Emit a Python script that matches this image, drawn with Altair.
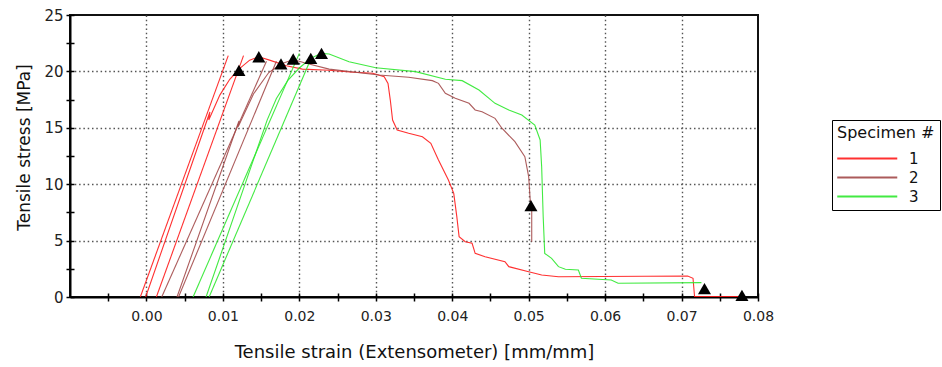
import altair as alt
import pandas as pd

# ---- Specimen 1 ----
s1_curve_strain = [-0.0001, 0.0083, 0.00815, 0.0096, 0.0109, 0.0121, 0.0135, 0.0147, 0.0161, 0.0183,
                   0.0204, 0.0239, 0.0266, 0.0296, 0.0311, 0.0316, 0.0319, 0.0322, 0.0328, 0.0343,
                   0.0361, 0.0372, 0.0382, 0.0395, 0.0402, 0.0406, 0.0409, 0.0417, 0.0426, 0.0430,
                   0.0443, 0.0469, 0.0474, 0.0500, 0.0517, 0.0539, 0.0708, 0.0715, 0.0717, 0.0779]
s1_curve_stress = [0.0, 16.4, 15.7, 17.9, 19.3, 20.2, 21.0, 21.3, 21.0, 20.5,
                   20.2, 20.1, 19.95, 19.83, 19.53, 18.94, 17.46, 15.69, 14.8, 14.51,
                   14.21, 13.63, 12.15, 10.37, 9.19, 7.12, 5.35, 4.9, 4.76, 3.87,
                   3.57, 3.13, 2.69, 2.24, 1.95, 1.8, 1.86, 1.66, 0.05, 0.05]
s1_fit_a_strain = [-0.0008, 0.0107]
s1_fit_a_stress = [0.0, 21.4]
s1_fit_b_strain = [0.0013, 0.0127]
s1_fit_b_stress = [0.0, 21.4]

# ---- Specimen 2 ----
s2_curve_strain = [0.0040, 0.0121, 0.0120, 0.0140, 0.0160, 0.0176, 0.0192, 0.0210, 0.0239, 0.0304,
                   0.0343, 0.0374, 0.0382, 0.0391, 0.0404, 0.0422, 0.0430, 0.0439, 0.0456, 0.0465,
                   0.0482, 0.0495, 0.0500, 0.0502, 0.0504, 0.0504]
s2_curve_stress = [0.0, 15.6, 15.1, 18.0, 19.9, 20.66, 21.05, 20.7, 20.2, 19.68,
                   19.48, 19.18, 18.94, 18.06, 17.61, 17.17, 16.58, 16.43, 15.84, 14.96,
                   13.77, 12.44, 10.67, 8.6, 8.09, 4.9]
s2_fit_a_strain = [0.0020, 0.0157]
s2_fit_a_stress = [0.0, 20.9]
s2_fit_b_strain = [0.0042, 0.0170]
s2_fit_b_stress = [0.0, 20.9]

# ---- Specimen 3 ----
s3_curve_strain = [0.0078, 0.0158, 0.0170, 0.0185, 0.0200, 0.0215, 0.0229, 0.0239, 0.0265, 0.0300,
                   0.0352, 0.0391, 0.0413, 0.0435, 0.0456, 0.0474, 0.0491, 0.0508, 0.0515, 0.0517,
                   0.0519, 0.0521, 0.0530, 0.0539, 0.0548, 0.0565, 0.0569, 0.0608, 0.0617, 0.0726]
s3_curve_stress = [0.0, 15.7, 17.6, 19.2, 20.3, 21.16, 21.6, 21.54, 20.86, 20.33,
                   19.98, 19.30, 19.18, 18.35, 17.17, 16.58, 16.13, 15.25, 13.92, 11.55,
                   7.12, 3.87, 3.43, 2.69, 2.46, 2.39, 1.66, 1.51, 1.22, 1.27]
s3_fit_a_strain = [0.0061, 0.0200]
s3_fit_a_stress = [0.0, 21.6]
s3_fit_b_strain = [0.0082, 0.0215]
s3_fit_b_stress = [0.0, 21.1]

# Yield, peak and break markers
marker_strain = [0.0121, 0.0147, 0.0176, 0.0192, 0.0215, 0.0229, 0.0503, 0.0730, 0.0779]
marker_stress = [20.1, 21.3, 20.66, 21.1, 21.16, 21.6, 8.1, 0.75, 0.15]

specimens = ["1", "2", "3"]
specimen_colors = ["#ff1a1a", "#a34a4a", "#2ee82e"]

x_ticks = [round(-0.005 + 0.005 * i, 3) for i in range(18)]
x_major = [round(0.01 * i, 2) for i in range(8)]
y_ticks = [2.5 * i for i in range(11)]
y_major = [5, 10, 15, 20]

traces = [
    ("1", "curve", s1_curve_strain, s1_curve_stress),
    ("1", "fit_a", s1_fit_a_strain, s1_fit_a_stress),
    ("1", "fit_b", s1_fit_b_strain, s1_fit_b_stress),
    ("2", "curve", s2_curve_strain, s2_curve_stress),
    ("2", "fit_a", s2_fit_a_strain, s2_fit_a_stress),
    ("2", "fit_b", s2_fit_b_strain, s2_fit_b_stress),
    ("3", "curve", s3_curve_strain, s3_curve_stress),
    ("3", "fit_a", s3_fit_a_strain, s3_fit_a_stress),
    ("3", "fit_b", s3_fit_b_strain, s3_fit_b_stress),
]
rows = []
for spec, name, xs, ys in traces:
    for i, (sx, sy) in enumerate(zip(xs, ys)):
        rows.append({"specimen": spec, "trace": f"{spec}-{name}", "idx": i,
                     "strain": sx, "stress": sy})
curves = pd.DataFrame(rows)
markers = pd.DataFrame({"strain": marker_strain, "stress": marker_stress})

FONT = "DejaVu Sans"
x_scale = alt.Scale(domain=[-0.01, 0.08], nice=False, zero=False)
y_scale = alt.Scale(domain=[0, 25], nice=False)

is_major = "abs(datum.value*100 - round(datum.value*100)) < 0.01"

lines = alt.Chart(curves).mark_line(strokeWidth=1.1, opacity=0.9, clip=True).encode(
    x=alt.X("strain:Q", scale=x_scale,
            axis=alt.Axis(orient="bottom", values=x_ticks,
                          labelExpr=f"{is_major} ? format(datum.value, '.2f') : ''",
                          labelOverlap=False, labelFlush=False, grid=False,
                          domainColor="black", domainWidth=2,
                          tickColor="black", tickWidth=1.5, tickSize=4,
                          labelPadding=8, labelFont=FONT, labelFontSize=14, labelColor="#222",
                          title="Tensile strain (Extensometer) [mm/mm]",
                          titleFont=FONT, titleFontSize=18, titleFontWeight="normal",
                          titleColor="#111", titleBaseline="alphabetic", titleY=60)),
    y=alt.Y("stress:Q", scale=y_scale,
            axis=alt.Axis(orient="left", values=y_ticks,
                          labelExpr="datum.value % 5 == 0 ? format(datum.value, 'd') : ''",
                          labelOverlap=False, labelFlush=False, grid=False,
                          domainColor="black", domainWidth=2,
                          tickColor="black", tickWidth=1.5, tickSize=4,
                          labelPadding=3, labelFont=FONT, labelFontSize=15, labelColor="#222",
                          title="Tensile stress [MPa]",
                          titleFont=FONT, titleFontSize=17, titleFontWeight="normal",
                          titleColor="#111", titleBaseline="alphabetic",
                          titleX=-41, titleY=132, titleAngle=270)),
    color=alt.Color("specimen:N",
                    scale=alt.Scale(domain=specimens, range=specimen_colors),
                    legend=alt.Legend(title="Specimen #", orient="none",
                                      legendX=762, legendY=105,
                                      symbolType="M-1.1,0H6.9", symbolSize=225,
                                      symbolStrokeWidth=2, labelOffset=55,
                                      rowPadding=2, titlePadding=9, padding=5,
                                      strokeColor="black", fillColor="white",
                                      titleFont=FONT, titleFontSize=16,
                                      titleFontWeight="normal", titleColor="#111",
                                      labelFont=FONT, labelFontSize=15, labelColor="#111")),
    detail="trace:N",
    order="idx:Q",
)

# Dotted grid on the major values
grid = alt.Chart(markers).mark_point(opacity=0).encode(
    x=alt.X("strain:Q", scale=x_scale,
            axis=alt.Axis(orient="bottom", values=x_major, grid=True, gridColor="#555",
                          gridDash=[1.5, 2.8], gridWidth=1.4, ticks=False, labels=False,
                          domain=False, title=None)),
    y=alt.Y("stress:Q", scale=y_scale,
            axis=alt.Axis(orient="left", values=y_major, grid=True, gridColor="#555",
                          gridDash=[1.5, 2.8], gridWidth=1.4, ticks=False, labels=False,
                          domain=False, title=None)),
)

# Inner halves of the tick marks
inner_ticks = alt.Chart(markers).mark_point(opacity=0).encode(
    x=alt.X("strain:Q", scale=x_scale,
            axis=alt.Axis(orient="bottom", values=x_ticks, offset=-4, tickSize=4,
                          tickColor="black", tickWidth=1.5, labels=False, domain=False,
                          grid=False, title=None)),
    y=alt.Y("stress:Q", scale=y_scale,
            axis=alt.Axis(orient="left", values=y_ticks, offset=-4, tickSize=4,
                          tickColor="black", tickWidth=1.5, labels=False, domain=False,
                          grid=False, title=None)),
)

points = alt.Chart(markers).mark_point(shape="triangle-up", filled=True, color="black",
                                       opacity=1, size=170).encode(
    x=alt.X("strain:Q", scale=x_scale, axis=None),
    y=alt.Y("stress:Q", scale=y_scale, axis=None),
)

chart = alt.layer(grid, lines, inner_ticks, points).resolve_axis(
    x="independent", y="independent"
).properties(
    width=688, height=282,
    autosize=alt.AutoSizeParams(type="none"),
    padding={"left": 70, "top": 15, "right": 184, "bottom": 70},
    background="white",
).configure_view(stroke="#111", strokeWidth=2)

chart.save("out.html", embed_options={"renderer": "svg", "actions": False})
